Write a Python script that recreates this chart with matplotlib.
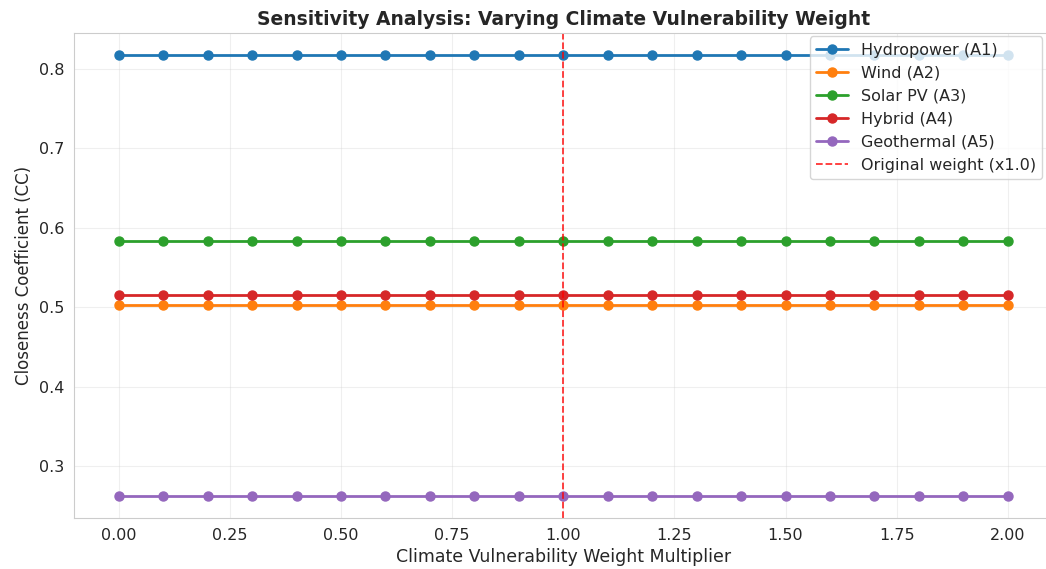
import matplotlib
matplotlib.use("Agg")
import matplotlib.pyplot as plt
import seaborn as sns
import numpy as np

sns.set_style("whitegrid")

multipliers = [round(0.1 * i, 1) for i in range(21)]
labels = ["Hydropower (A1)", "Wind (A2)", "Solar PV (A3)", "Hybrid (A4)", "Geothermal (A5)"]
cc_values = [0.817, 0.503, 0.583, 0.515, 0.263]
colors = ["#1f77b4", "#ff7f0e", "#2ca02c", "#d62728", "#9467bd"]

fig, ax = plt.subplots(figsize=(10.46, 5.69), dpi=100)

for name, cc, c in zip(labels, cc_values, colors):
    ax.plot(multipliers, [cc] * len(multipliers), marker="o", linewidth=2,
            markersize=6.5, color=c, label=name)

ax.axvline(1.0, color="red", linestyle="--", linewidth=1.3, alpha=0.8,
           label="Original weight (x1.0)")

ax.set_xlabel("Climate Vulnerability Weight Multiplier", fontsize=12.5)
ax.set_ylabel("Closeness Coefficient (CC)", fontsize=12)
ax.set_title("Sensitivity Analysis: Varying Climate Vulnerability Weight",
             fontsize=13.5, fontweight="bold")
ax.tick_params(labelsize=11.5)
ax.grid(True, alpha=0.3)
ax.legend(loc="upper right", fontsize=11.5, borderaxespad=0,
          bbox_to_anchor=(0.99, 0.993))

# reference image is cropped on the right, so the axes runs slightly past the edge
plt.subplots_adjust(left=0.071, right=1.006, top=0.942, bottom=0.09)
plt.savefig("out.png", dpi=100)
